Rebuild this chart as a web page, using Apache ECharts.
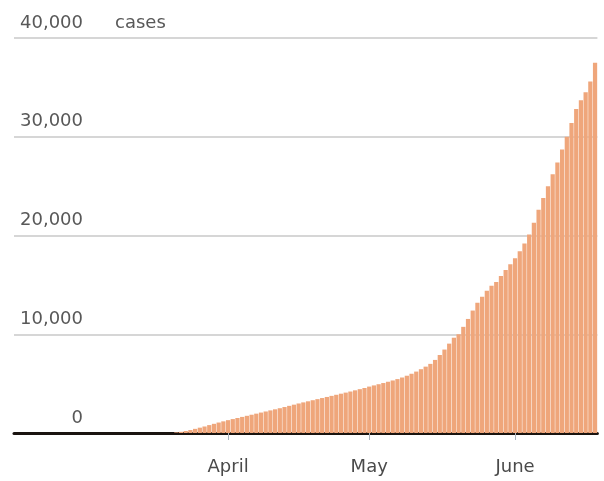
<!DOCTYPE html>
<html>
<head>
<meta charset="utf-8">
<script src="https://cdn.jsdelivr.net/npm/echarts@6/dist/echarts.min.js"></script>
<style>
html,body{margin:0;padding:0;background:#fff;}
#chart{width:604px;height:481px;}
</style>
</head>
<body>
<div id="chart"></div>
<script>
// Cumulative cases, daily, Feb 16 – Jun 18
var months = ['February','March','April','May','June'];
var monthStartDay = [16, 1, 1, 1, 1];
var febCases = [0,0,0,0,0,0,0,0,0,0,0,0,0,0];
var marCases = [0,0,0,0,0,0,0,0,0,0,0,0,0,0,0,0,0,0,0,0,
  60,120,200,300,420,540,660,800,930,1060,1180];
var aprCases = [1300,1410,1520,1630,1740,1850,1960,2070,2180,2290,
  2400,2510,2630,2750,2870,2990,3100,3210,3320,3430,
  3540,3650,3760,3870,3980,4090,4200,4320,4440,4560];
var mayCases = [4700,4820,4940,5060,5190,5320,5460,5620,5800,6000,
  6220,6460,6720,7000,7400,7900,8450,9050,9650,10000,
  10750,11550,12400,13200,13800,14400,14900,15300,15900,16500,17100];
var junCases = [17700,18400,19200,20100,21300,22600,23800,25000,26200,27400,
  28700,30000,31400,32800,33700,34500,35600,37500];
var monthSeries = [febCases, marCases, aprCases, mayCases, junCases];
var labelledMonths = ['April','May','June'];
var yTicks = [0, 10000, 20000, 30000, 40000];
var yTickLabels = ['0', '10,000', '20,000', '30,000', '40,000'];
var unitLabel = 'cases';

var categories = [], values = [];
monthSeries.forEach(function (arr, m) {
  arr.forEach(function (v, k) {
    categories.push(months[m] + ' ' + (monthStartDay[m] + k));
    values.push(v);
  });
});

function isMonthStart(idx) {
  var c = categories[idx].split(' ');
  return c[1] === '1' && labelledMonths.indexOf(c[0]) >= 0;
}

var chart = echarts.init(document.getElementById('chart'));
chart.setOption({
  animation: false,
  backgroundColor: '#ffffff',
  grid: { left: 14, right: 6.6, top: 38, bottom: 48, containLabel: false },
  xAxis: {
    type: 'category',
    data: categories,
    boundaryGap: true,
    axisLine: { show: true, lineStyle: { color: '#1a1410', width: 3 } },
    axisTick: {
      show: true, alignWithLabel: true, length: 7,
      interval: function (i) { return isMonthStart(i); },
      lineStyle: { color: '#a9b3bd', width: 1 }
    },
    axisLabel: {
      interval: function (i) { return isMonthStart(i); },
      formatter: function (v) { return v.split(' ')[0]; },
      fontFamily: 'DejaVu Sans', fontSize: 18, color: '#4a4a4a',
      margin: 25
    },
    splitLine: { show: false }
  },
  yAxis: {
    type: 'value',
    min: 0, max: 40000, interval: 10000,
    name: unitLabel,
    nameLocation: 'end',
    nameGap: 6,
    nameTextStyle: {
      fontFamily: 'DejaVu Sans', fontSize: 18, color: '#585858',
      align: 'left', verticalAlign: 'bottom', padding: [0, 0, 0, 101]
    },
    axisLine: { show: false },
    axisTick: { show: false },
    splitLine: { show: true, lineStyle: { color: '#c8c8c8', width: 1.5 } },
    axisLabel: {
      inside: true,
      align: 'right',
      verticalAlign: 'bottom',
      margin: 69,
      padding: [0, 0, 6, 0],
      fontFamily: 'DejaVu Sans', fontSize: 18, color: '#585858',
      formatter: function (v) { return yTickLabels[yTicks.indexOf(v)]; }
    }
  },
  series: [{
    type: 'bar',
    data: values,
    barCategoryGap: '10%',
    itemStyle: { color: '#efa67b' }
  }]
});
</script>
</body>
</html>
